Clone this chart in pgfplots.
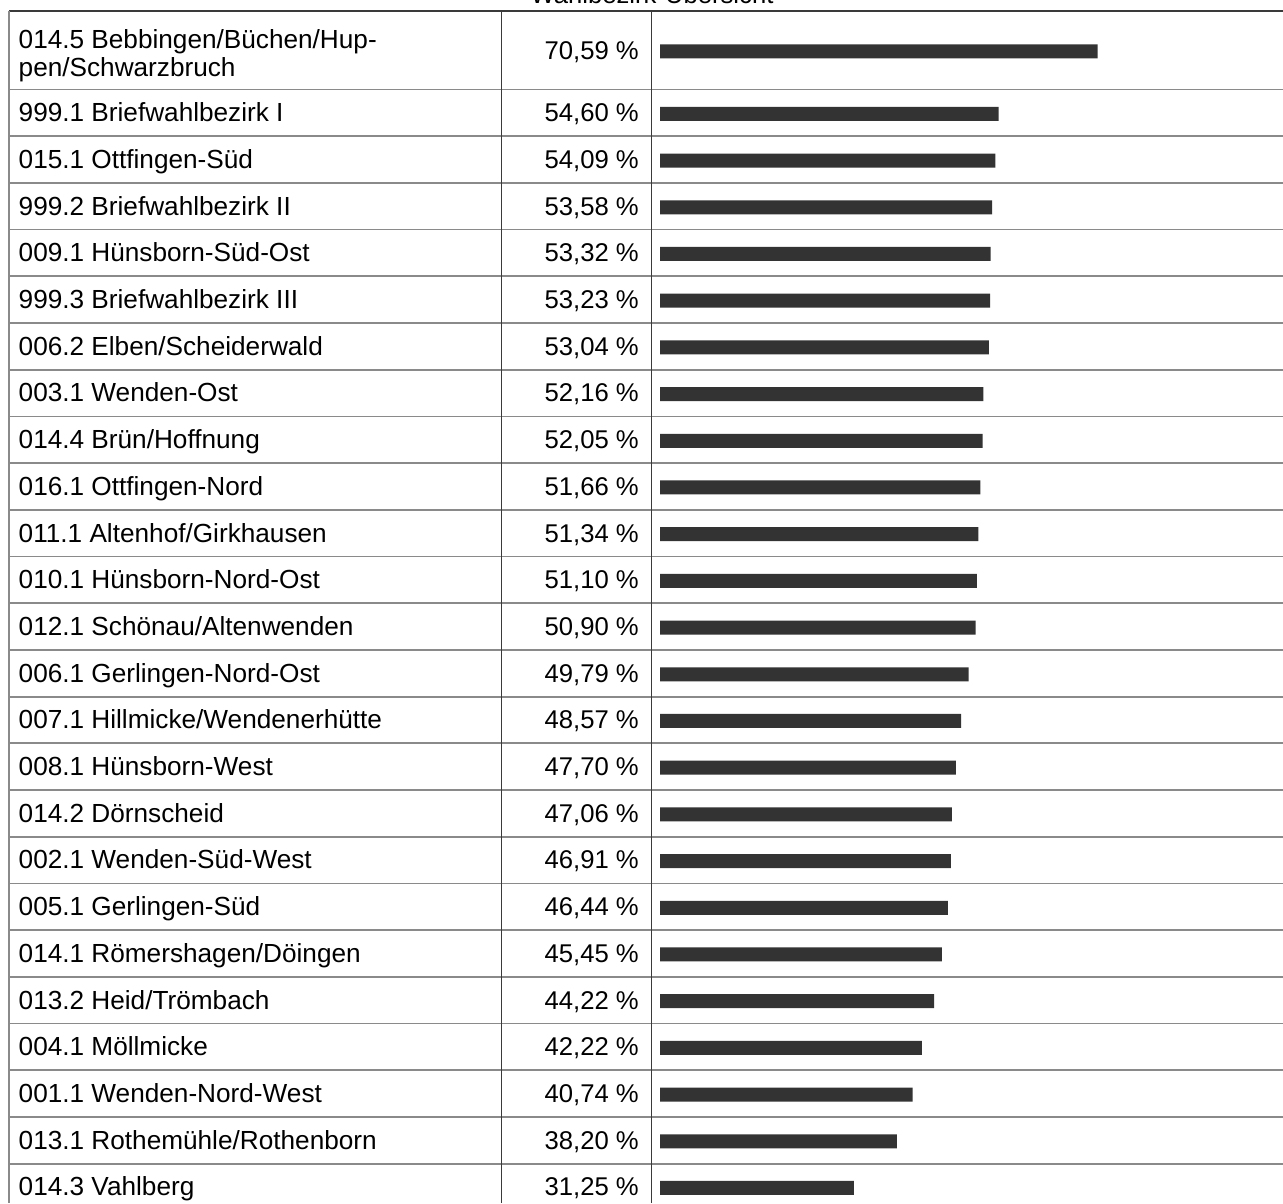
\documentclass[border=0pt]{standalone}
\usepackage{pgfplots}
\usepackage{pgfplotstable}
\pgfplotsset{compat=1.18}
\usepackage{fontspec}
\setmainfont{Liberation Sans}
\definecolor{barc}{HTML}{333333}
\definecolor{hl}{HTML}{8A8A8A}
\definecolor{vl}{HTML}{3A3A3A}

\pgfplotstableread[col sep=semicolon]{
pos;val;name
50.25;70.59;{014.5 Bebbingen/Büchen/Hup-\\pen/Schwarzbruch}
112.85;54.60;999.1 Briefwahlbezirk I
159.55;54.09;015.1 Ottfingen-Süd
206.25;53.58;999.2 Briefwahlbezirk II
252.95;53.32;009.1 Hünsborn-Süd-Ost
299.65;53.23;999.3 Briefwahlbezirk III
346.35;53.04;006.2 Elben/Scheiderwald
393.05;52.16;003.1 Wenden-Ost
439.75;52.05;014.4 Brün/Hoffnung
486.45;51.66;016.1 Ottfingen-Nord
533.15;51.34;011.1 Altenhof/Girkhausen
579.85;51.10;010.1 Hünsborn-Nord-Ost
626.55;50.90;012.1 Schönau/Altenwenden
673.25;49.79;006.1 Gerlingen-Nord-Ost
719.95;48.57;007.1 Hillmicke/Wendenerhütte
766.65;47.70;008.1 Hünsborn-West
813.35;47.06;014.2 Dörnscheid
860.05;46.91;002.1 Wenden-Süd-West
906.75;46.44;005.1 Gerlingen-Süd
953.45;45.45;014.1 Römershagen/Döingen
1000.15;44.22;013.2 Heid/Trömbach
1046.85;42.22;004.1 Möllmicke
1093.55;40.74;001.1 Wenden-Nord-West
1140.25;38.20;013.1 Rothemühle/Rothenborn
1186.95;31.25;014.3 Vahlberg
}\datatable

\begin{document}
\begin{tikzpicture}
\begin{axis}[
  width=12.83cm, height=12.03cm, scale only axis,
  xmin=-106.452, xmax=100.484,
  ymin=0, ymax=1203, y dir=reverse,
  hide axis, clip=false,
]
% grid lines of the table
\pgfplotsinvokeforeach{0,...,23}{
  \draw[hl, line width=0.5pt] (axis cs:-105,{89.5+46.7*#1}) -- (axis cs:100.484,{89.5+46.7*#1});
}
\draw[vl, line width=0.5pt] (axis cs:-105,11) -- (axis cs:100.484,11);
\draw[hl, line width=0.45pt] (axis cs:-105,11) -- (axis cs:-105,1203);
\draw[vl, line width=0.4pt] (axis cs:-25.53,11) -- (axis cs:-25.53,1203);
\draw[vl, line width=0.4pt] (axis cs:-1.34,11) -- (axis cs:-1.34,1203);

% bars
\addplot[xbar, bar width=1.4mm, fill=barc, draw=none]
  table[x=val, y expr=\thisrow{pos}+1] {\datatable};

% names
\addplot[draw=none, mark=none, point meta=explicit symbolic,
  nodes near coords={\pgfplotspointmeta},
  every node near coord/.style={anchor=base west, inner sep=0pt, align=left, text=black,
    font=\fontsize{7.45}{6.75}\selectfont}]
  table[x expr=-103.55, y expr={\thisrow{pos}<60 ? 76.5 : \thisrow{pos}+8.85}, meta=name] {\datatable};

% percentages
\addplot[draw=none, mark=none, point meta=explicit,
  nodes near coords={\pgfmathprintnumber[fixed,fixed zerofill,precision=2,use comma,assume math mode=true]{\pgfplotspointmeta}~\%},
  every node near coord/.style={anchor=base east, inner sep=0pt, text=black,
    font=\fontsize{7.3}{6.8}\selectfont}]
  table[x expr=-3.31, y expr=\thisrow{pos}+8.85, meta=val] {\datatable};

\node[anchor=base, inner sep=0pt, font=\fontsize{7.3}{6.8}\selectfont] at (axis cs:-1.29,3.5) {Wahlbezirk-Übersicht};
\end{axis}
\pgfresetboundingbox
\path[use as bounding box] (current axis.south west) rectangle (current axis.north east);
\end{tikzpicture}
\end{document}
